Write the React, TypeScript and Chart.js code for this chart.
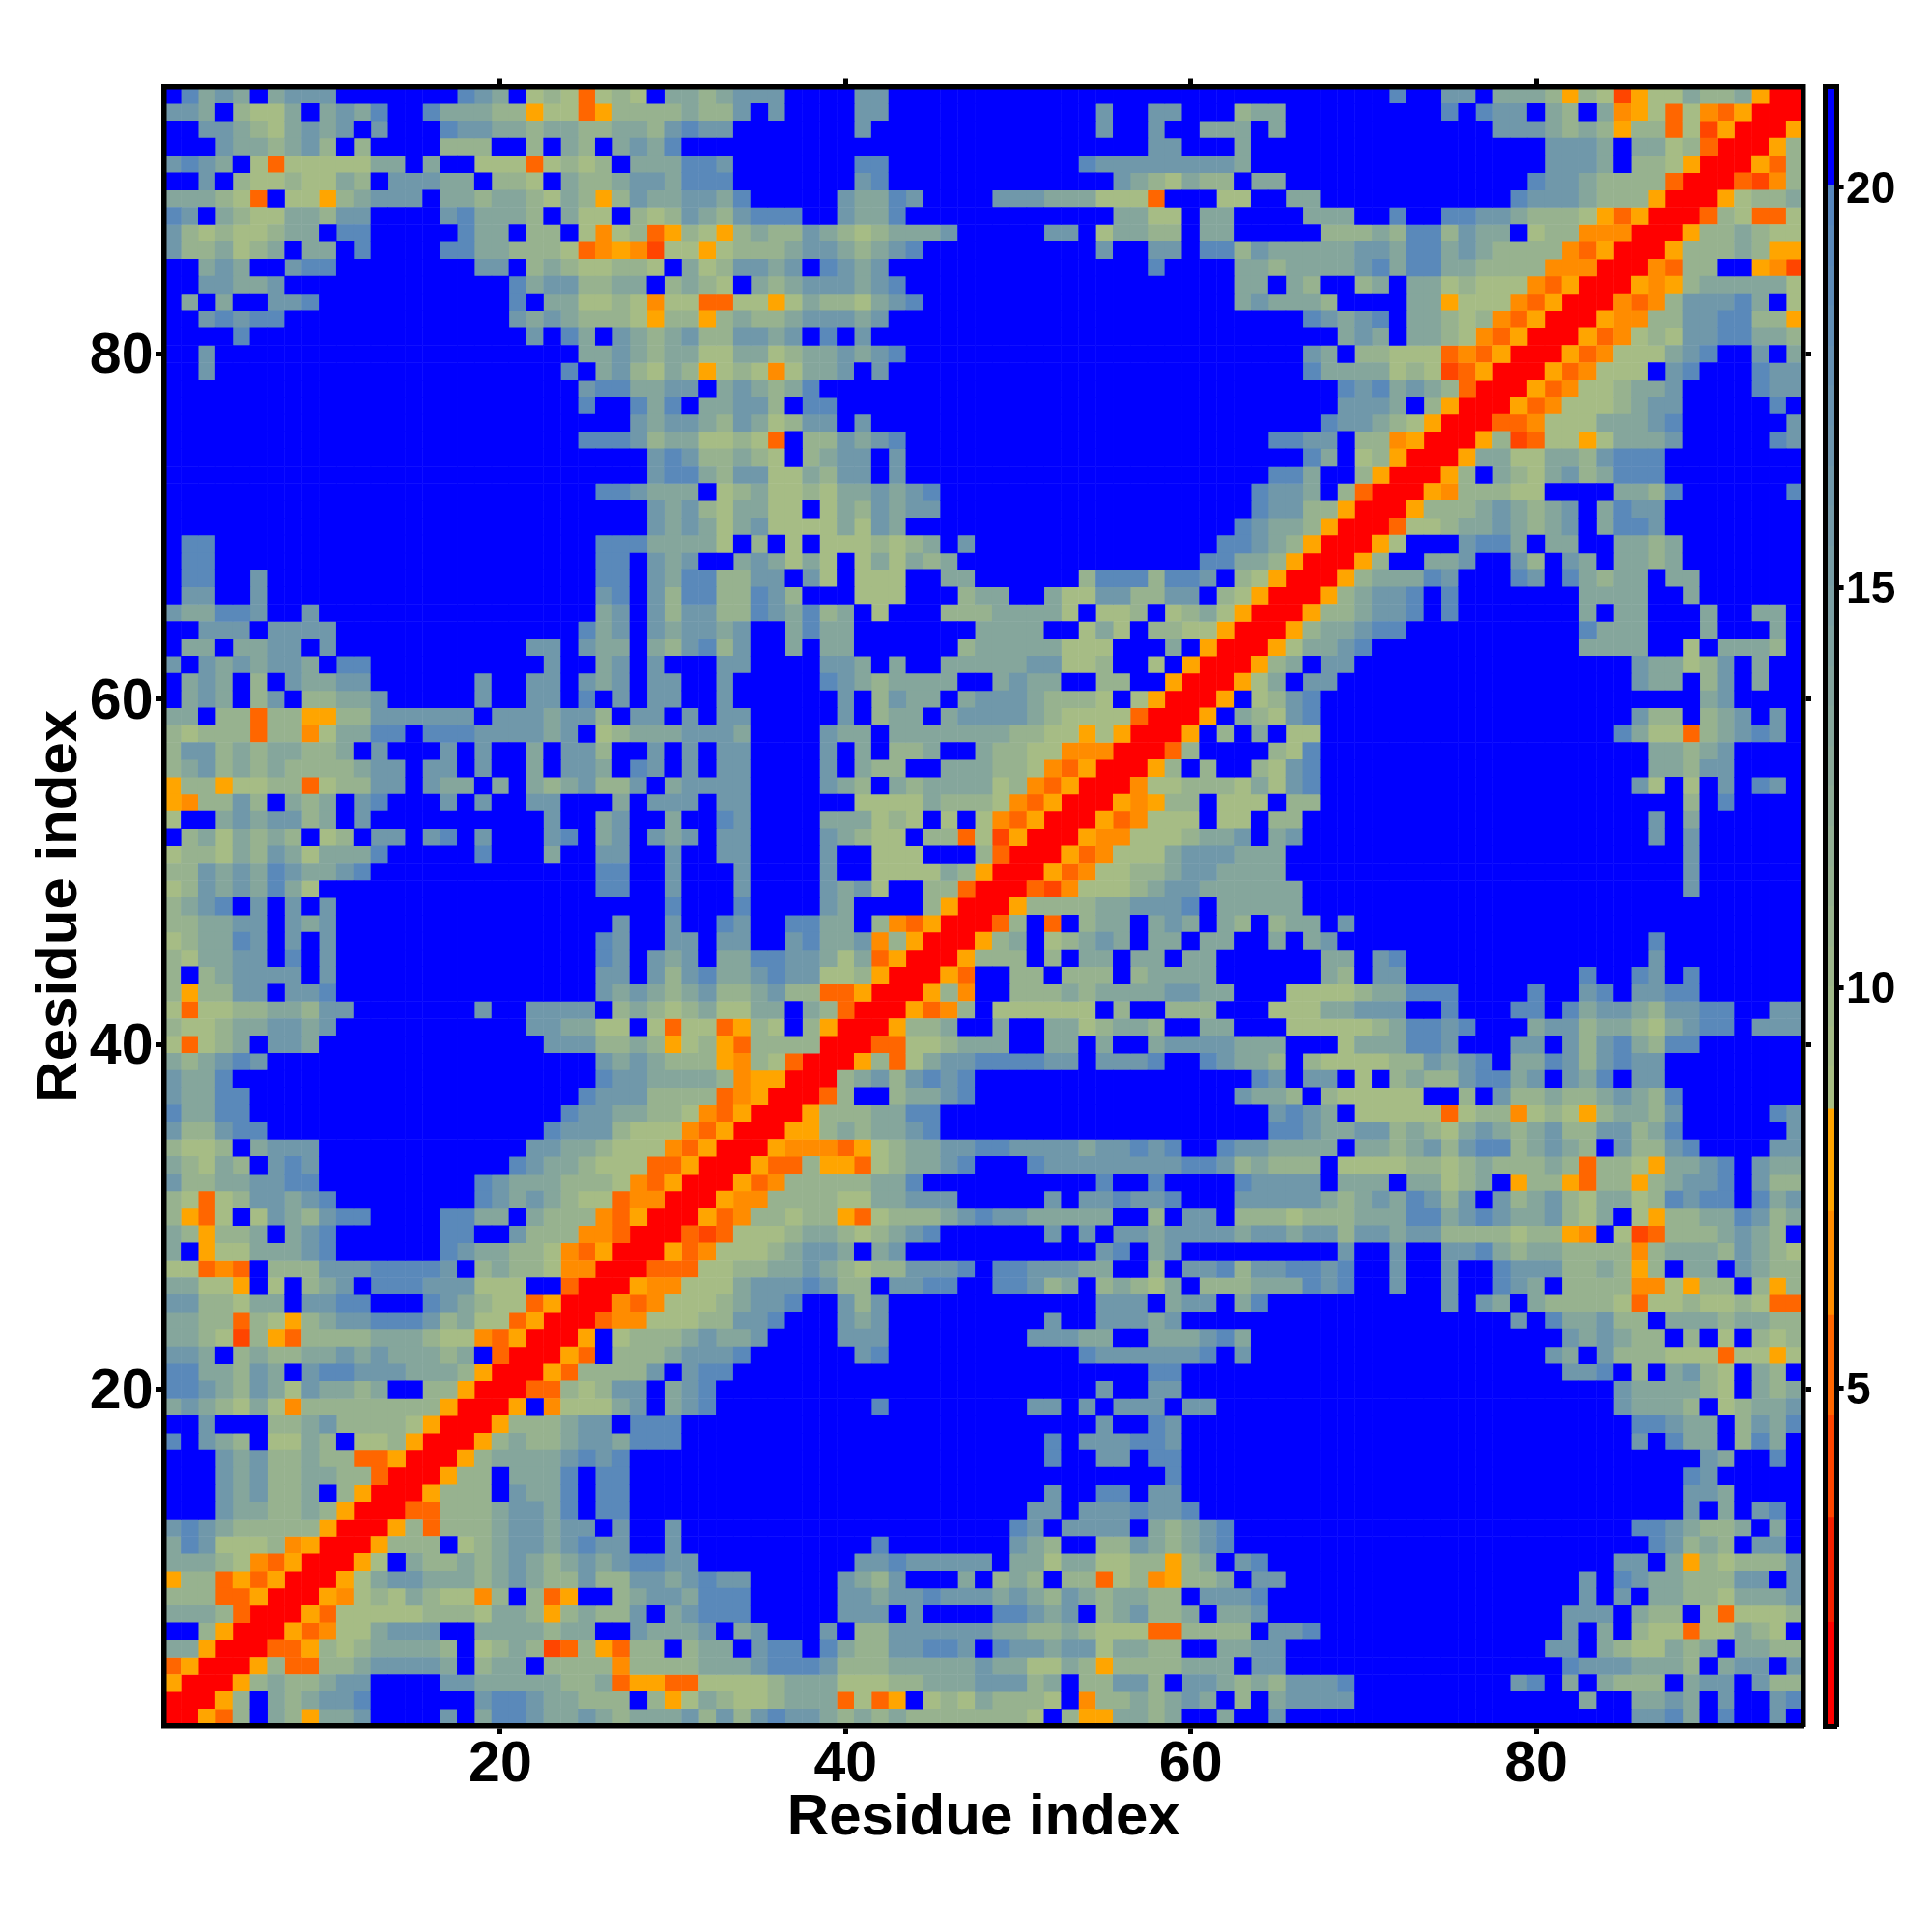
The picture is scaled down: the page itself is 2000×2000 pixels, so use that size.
import React, { useEffect, useRef } from "react";
import { Chart, registerables } from "chart.js";

Chart.register(...registerables);

// Distance classes per cell, rows from residue 95 (top) down to residue 1.
// Legend: B out of range, 4..0 steel to sage, o n m l oranges, r red.
const leftColumns: string[] = [
"B4232B2333 BBBBBBB432 B010m010B2 21",
"332B1002B2 324BB42221 1o00mo1111 21",
"BB33210232 3B3BBB4332 2122112213 43",
"BBB3221231 B1BBBB111B B1B21B2324 BB",
"3432B0m000 0022B2BB00 0m0101B222 44",
"BB3B100100 21B33322B1 10B2112332 44",
"22210mB00o 12333B2212 21021o1322 33",
"43B2100221 33BBBB3422 21B200B101 32",
"310100122B 44BBBBB422 B11B0n01mo 10",
"3112012B22 B4BBBB4422 1110mnonl0 0o",
"BB232BB344 BBBBBBBB33 B12100110B 20",
"BB33223BBB BBBBBBBBBB 42331122B1 21",
"B2B2BB334B BBBBBBBBBB 4B220010n0 0m",
"BB34344BBB BBBBBBBBBB 32321110o1 1o",
"BBBB4BBBBB BBBBBBBBBB B3B42B3212 31",
"BB3BBBBBBB BBBBBBBBBB BBBB223212 20",
"BB3BBBBBBB BBBBBBBBBB BBB4B23102 1o",
"BBBBBBBBBB BBBBBBBBBB BBBB344223 3B",
"BBBBBBBBBB BBBBBBBBBB BBBB4BB424 B2",
"BBBBBBBBBB BBBBBBBBBB BBBBBBB323 32",
"BBBBBBBBBB BBBBBBBBBB BBBB444312 20",
"BBBBBBBBBB BBBBBBBBBB BBBBBBBB34 31",
"BBBBBBBBBB BBBBBBBBBB BBBBBBBB34 42",
"BBBBBBBBBB BBBBBBBBBB BBBBB44322 2B",
"BBBBBBBBBB BBBBBBBBBB BBBBBBBB32 31",
"BBBBBBBBBB BBBBBBBBBB BBBBBBBB32 32",
"B44BBBBBBB BBBBBBBBBB BBBBB44422 22",
"B44BBBBBBB BBBBBBBBBB BBBBB44B32 3B",
"B44BB3BBBB BBBBBBBBBB BBBBB44B32 44",
"B33BB3BBBB BBBBBBBBBB BBBBB34B31 44",
"322443BB3B BBBBBBBBBB BBBBB23B31 33",
"BB333B3333 BBBBBBBBBB BBBB423B32 33",
"B22B2233B3 BBBBBBBBBB B33B322B21 34",
"3B3232332B 44BBBBBBBB BB3BB23B3B BB",
"B232B1B322 33BBBBBB3B B33B323B33 BB",
"B232B13B11 223BBBBB3B B33B4B3B33 BB",
"22B11m11oo 11333333B3 332331B33B 3B",
"10111m11n0 2244B44433 3323B01222 33",
"1331212211 2B3BBB3B3B B2B331BB3B 3B",
"1231212111 1233B33B3B B2B332B43B 3B",
"o11o0011m0 1133B322B2 B2123113B2 33",
"on1131B212 B34BBB3B3B B33BBB2B33 3B",
"0BB2323312 B3BBBBBBBB BB3BB23BB2 BB",
"B1202121B0 1B33B34B3B BB34B23B32 3B",
"0110213202 224BBBBB4B BB2BB33BB3 BB",
"1132324322 34BBBBBBBB BBBBB44BB3 BB",
"013232420B BBBBBBBBBB BBBBB44BB3 BB",
"1234B3B3B3 BBBBBBBBBB BBBBBBBBB4 BB",
"112233B323 BBBBBBBBBB BBBBBB3BB3 BB",
"012243B3B3 BBBBBBBBBB BBBBB43BB3 3B",
"102233B4B3 BBBBBBBBBB BBBBB43B32 3B",
"1B123333B3 BBBBBBBBBB BBBBB33B31 34",
"1o1133B334 BBBBBBBBBB BBBBB32321 23",
"0m00112213 3BBBBBBB3B B3333B1210 12",
"1001223323 BBBBBBBBBB B332200B0m 00",
"0m012B332B BBBBBBBBBB BB3331121o 01",
"212343BBBB BBBBBBBBBB BBBBB32321 11",
"3224BBBBBB BBBBBBBBBB BBBBB43322 22",
"32244BBBBB BBBBBBBBBB BBBB433311 11",
"42244BBBBB BBBBBBBBBB BBB4332211 0n",
"311344BBBB BBBBBBBBBB BB43331000 nm",
"1001B2333B BBBBBBBBBB B33221000n mo",
"21021B343B BBBBBBBBBB 43221000mm or",
"311223344B BBBBBBBB43 2221110nmo rr",
"10m0133234 BBBBBBBB43 232100mnnr rr",
"1om0B03213 44BBBB4422 B2111nmorr ro",
"21o112B234 BBBBBB44BB 3111nnmrrr ml",
"2Bo0022234 BBBBBB4322 110nmorrro mn",
"00mnmB1113 3344443B12 110nnrrrmm m0",
"2200oB0B12 3B44433300 0BBmrrronn 00",
"3311022B33 44BBB43210 0morrrnmn0 00",
"2211m10o12 3344431200 morrrmnn00 01",
"2210l1om11 11222100nm orrroB0111 23",
"332B121122 32322212Bm rrromB1112 33",
"4422132B34 43332221or rrom11113B 34",
"4432132032 212BB11orr rmm10133B2 34",
"2321020n11 111111orrr oBn00023B2 34",
"BB3BBB1123 11110orrro 111233B444 BB",
"4B321B0021 B001orrro1 2112332444 BB",
"BBB3231121 1mmorrro12 2223434BBB BB",
"BBB3231122 11mrrro11B 2224B44BBB BB",
"BBB323112B 1orrro111B 3224B44BBB BB",
"BBB3221121 orrrmm1112 3324B44BBB BB",
"343211111o rrro1m1112 33233B3BB3 BB",
"2430001nor rro111B012 3323433BB3 BB",
"22210nmorr ro0B211212 3212323443 3B",
"o11momorrr o023322212 3211311332 34",
"111mmorrro n0102100n1 B1moBB1233 24",
"2221mrrrom 0000011102 21o12113B2 34",
"BB1orrromn 002333BB22 22122BB322 23",
"22orrrmmo1 0122221B01 21lm1om11B 12",
"morrro1mm1 1233332B12 2B1111n111 12",
"orrro12112 33BBBB3322 222112moom m0",
"rrro1B2123 34BBBBBB34 4322111B1o 02",
"rrom1B21o2 23BBBB3B24 4322321222 31",
];

const middleColumns: string[] = [
"2333BBBB33 BBBBBBBBBB BBBBBBBBBB BB",
"13B3BBBB33 BBBBBBBBBB BB3BB33BBB 12",
"3BBBBBBB3B BBBBBBBBBB BB3BB3BB22 2B",
"BBBBBBBBBB BBBBBBBBBB BBBBB33BBB 2B",
"3BBBBBBB44 BBBBBBBBBB B433333333 2B",
"4BBBBBBB34 BBBBBBBBBB BBB3210211 B2",
"24BBBBB322 43BBBB3332 22000mBBB0 0B",
"13444BB322 4BBBBBBBBB BBB2200B22 BB",
"o121132101 2223BBBBB3 3B02211B22 BB",
"0111233212 34BBBBBBBB BB3BB33B44 13",
"13323B4323 BBBBBBBBBB BBBBB4BBBB 22",
"0B21233323 4BBBBBBBBB BBBBBBBBBB 22",
"m00o021102 34BBBBBBBB BBBBBBBBBB 23",
"1211233323 BBBBBBBBBB BBBBBBBBBB BB",
"13323B4B3B BBBBBBBBBB BBBBBBBBBB BB",
"0220122323 4BBBBBBBBB BBBBBBBBBB BB",
"010n0223B3 BBBBBBBBBB BBBBBBBBBB BB",
"232124BBBB BBBBBBBBBB BBBBBBBBBB BB",
"2331B44BBB BBBBBBBBBB BBBBBBBBBB BB",
"1320133B3B BBBBBBBBBB BBBBBBBBBB BB",
"010mB11323 4BBBBBBBBB BBBBBBBBBB BB",
"1210B1233B 3BBBBBBBBB BBBBBBBBBB BB",
"133002133B 3BBBBBBBBB BBBBBBBBBB BB",
"0120010223 234BBBBBBB BBBBBBBBBB B4",
"02200B0213 233BBBBBBB BBBBBBBBBB B4",
"0230000203 2BBBBBBBBB BBBBBBBBBB 43",
"0B1B0B0001 012B3BBBBB BBBBBBBBB4 43",
"B232020B02 0212BBBBBB BBBBBBBB44 22",
"1133B30B00 0BB22BBBBB B14441443B 10",
"11431BBB00 0BBB122BB2 00331133B1 0o",
"11432412B0 BBB1112222 0B001B0120 or",
"23BB2422BB BBBBB2222B B020B1100o rr",
"13BB2B22BB BBBB122222 000BBB2Bor rr",
"33BBBB332B 2BB2222233 001BB0Borr ro",
"3BBBBB4321 2222BB2322 BB11BBorrr o0",
"3BBBBBB3B1 322B233321 110B0orrro B0",
"33BBBBB3B1 22B2333321 0000mrrroB 21",
"32BBBB322B 2222222110 0o0orrroB1 B2",
"33BBBB3B2B 112BB21100 nnnrrrm1BB BB",
"33BBBB3B21 1BB222110n morrro1B1B B1",
"33BBBB321B 21222201nm orrrn00111 02",
"33BBBBBB00 0021110nmo rrrono11B0 00",
"43BBBB2220 10B0B0nmor rromn000B0 0B",
"33BBBB3210 0B11m0lorr ronn000122 3B",
"33BBBB3BB0 00BBB1mrrr omn0002333 22",
"B3BBBB3BB0 00021orrro mn00112332 22",
"B3BBBB3230 BB11mrrrml n000123322 22",
"B4BBBB32BB BB1orrro11 11223334B2 22",
"43BB4422B1 nmorrrm1Bm B122B232B2 1B",
"33BB34223n 1orrro12B0 1232B22B22 BB",
"224433202m orrro111B1 B22B22B22B BB",
"223433001o rrromBB11B 111B12222B BB",
"112311mmor rro1nBB111 2122223322 BB",
"0022B21mrr romn1B0000 00B1BB111B BB",
"mo10B1orrr o112BB2BB2 201221BB22 BB",
"om1111rrrm m001222BB2 2B2BB23333 22",
"on10mrrro1 m023344443 3B3334BB43 22",
"1noorrr123 13434BBBBB BBBBBBBBBB B4",
"mnorrrm1BB 12234BBBBB BBBBBBBBBB 32",
"morrro1112 244BBBBBBB BBBBBBBBBB BB",
"orrroo1212 234BBBBBBB BBBBBBBBBB BB",
"rrronnnmo0 1223344333 3233434BB4 33",
"rromm1oom0 12234BBB43 3333333443 12",
"romn111112 24BBBBBBBB BB4BB4BBBB 43",
"onn1111002 2333BBBBB3 B334334BBB 33",
"mn11011om0 1112343322 222BB1B33B 11",
"m000122101 234BBBBBB3 B3B3323333 23",
"00012332B2 3BBBBBBBBB BB34B23BBB BB",
"0112232101 13334B4433 322BB1B334 13",
"023334311B 3344BB4431 2B12102B11 12",
"12334BB313 BBBBBBBBBB BB333B233B 24",
"1334BBB323 BBBBBBBBB3 BB33323BBB BB",
"223BBBB333 BBBBBBBB33 322BB22234 2B",
"34BBBBBB34 BBBBBBBBBB B43333334B 3B",
"4BBBBBBBBB BBBBBBBBBB BBBBB44BBB BB",
"BBBBBBBBBB BBBBBBBBBB BB3BB33BBB BB",
"BBBBBBBBB4 BBBBBBBB33 B3B333B33B BB",
"BBBBBBBBBB BBBBBBBBBB BB3BB43BBB BB",
"BBBBBBBBBB BBBBBBBBB4 B333443BBB BB",
"BBBBBBBBBB BBBBBBBBB4 BB33B44BBB BB",
"BBBBBBBBBB BBBBBBBBBB BBBBBB4BBB BB",
"BBBBBBBBBB BBBBBBBBB3 BB44B33BBB BB",
"BBBBBBBBBB BBBBBBBB33 B3334334BB BB",
"BBBBBBBBBB BBBBBBB43B 3333B21234 BB",
"BBBBBBBBB4 BBBBBBB321 BB11321234 BB",
"BBBBBBBB33 433333B220 220011o12B 34",
"33BBBBB321 3BBB2B121B 11m01no112 B3",
"44BBBBB332 3343332321 3212211B33 34",
"44BBBBB333 B3BBBB4432 3B123112B2 23",
"B23BBB3B11 3333332211 21000mm111 1B",
"2B344B4211 33443B4332 3302211BB2 23",
"2234443111 2222232200 21o1111222 B3",
"0001222000 1122233312 B11331B332 12",
"1001222m0m oB01021110 Bn1121232B 1B",
"3134332121 211111110B 1oo2212BB2 BB",
];

const rightColumns: string[] = [
"BBBBBBB4BB 33B2221o10 lo002112or r",
"2BBBBBBBBB 4B433B21B2 no0m0nmorr r",
"2BBBBBBBBB BBB3332121 o11m0lorrr o",
"BBBBBBBBBB BBBBBB3332 B2201mrrro 1",
"BBBBBBBBBB BBBBBB3332 B110orrrom 1",
"2BBBBBBBBB BBBBB43321 111mrrrmln 1",
"B22BBBBBBB BBBB433321 11orrro011 2",
"BB222BB4BB 443321110o morrrm10mm 0",
"BBB1112144 1322B011nn nrrro11210 0",
"2222233244 2321111nmo rrro11121o o",
"1222234244 221111nnnr rrnm11BBon l",
"B21BB12B22 01000nmorr rono122222 0",
"2221BBBB22 o000nmorrr nmn133342B 0",
"BB43234B22 101nmorrro nn11334411 o",
"BBBB232B22 10nmorrrom n010334422 1",
"BB32B11000 mnmorrromn 000234BB3B 2",
"BB42222010 lmorrromn0 00B34BBB43 3",
"BBBB434232 1mrrromn00 1223BBBB43 3",
"BBBB3332B1 orrromn000 1233BBBBB4 B",
"BBB433210o rrrmmn0002 2234BBBBBB 3",
"4433B11nor rro1lm00o0 2223BBBBB4 3",
"BB42B01orr ro22002213 444BBBBBBB B",
"442BB1orrr o1B2102312 444BBBBBBB B",
"332B1mrrro n11100BBBB 2214BBBBBB 4",
"3311orrro1 11232123B2 433BBBBBBB B",
"221orrrm00 12232123B2 443BBBBBBB B",
"21orrro0BB B3442B22BB 2212BBBBBB B",
"1orrro1BB2 23BB31B32B 2212BBBBBB B",
"orrro12224 3BBB43B421 22B22BBBBB B",
"rrro12334B 4BBBBBBB22 22BB2BBBBB B",
"rro112334B 4BBBBBBB2B 22BBB2BB22 B",
"ro122344BB BBBBBBBB42 22BBB2BBB2 B",
"o02234BBBB BBBBBBBB22 22BB0B2221 B",
"12B33BBBBB BBBBBBBBBB B322013B2B B",
"2B33BBBBBB BBBBBBBBBB B322B13B2B B",
"134BBBBBBB BBBBBBBBBB BBBBB23BBB B",
"034BBBBBBB BBBBBBBBBB B311B123B3 B",
"B00BBBBBBB BBBBBBBBBB 4200m12343 B",
"104BBBBBBB BBBBBBBBBB BB22123BBB B",
"034BBBBBBB BBBBBBBBBB BB22133BBB B",
"034BBBBBBB BBBBBBBBBB B30B0B3B43 B",
"B11BBBBBBB BBBBBBBBBB BBBB1B4BBB B",
"11BBBBBBBB BBBBBBBBBB BB3B2BBBBB B",
"23BBBBBBBB BBBBBBBBBB BB3B3BBBBB B",
"2BBBBBBBBB BBBBBBBBBB BBBB3BBBBB B",
"2BBBBBBBBB BBBBBBBBBB BBBB3BBBBB B",
"22BBBBBBBB BBBBBBBBBB BBBB3BBBBB B",
"22BBBBBBBB BBBBBBBBBB BBBBBBBBBB B",
"122B3BBBBB BBBBBBBBBB BBBBBBBBBB B",
"2B23BBBBBB BBBBBBBBBB BB4BBBBBBB B",
"BBB22B34BB BBBBBBBBBB BB3BBBBBBB B",
"BBB21B33BB BBBBBBBB4B B43B4BBBBB B",
"B000012244 4BBBB4BB34 B3344BBBBB B",
"00022333BB 4BBB44B423 3213344BB3 3",
"B000001244 34BBB23312 2102344B33 3",
"2BBB022244 3BBB33B313 42144BBBBB B",
"1B10000113 234B224313 433BBBBBBB B",
"3B33B0B121 134423B324 B33BBBBBBB B",
"21B100000B B1B3112112 3214BBBBBB B",
"3432B00000 m011n010o1 2213BBBBB4 3",
"4432233121 0232123113 3124BBBBBB 3",
"2222B22123 134412321B 31134BBBB3 3",
"111B000011 01211121m1 10o2234B32 2",
"333B222B22 012Bo11om1 1o12334B31 1",
"3332123243 13B3123102 2014344B42 3",
"1011122244 2343223102 B0o1122431 2",
"3233133233 1111011onB 0lm1112321 B",
"BBBB3BB3BB 3342122111 1n12221321 0",
"34434BB3BB 3BB4333112 1o1B22B321 1",
"22434BB3BB 3BB432B111 1nn0o11B1o 1",
"BBBBBBBBBB 3B32B21111 0m0010010m m",
"BBBBBBBBBB BBBB3B4223 11B2221221 1",
"BBBBBBBBBB BBBBBBB323 211B1B0B10 1",
"BBBBBBBBBB BBBBBB32B3 111000m00o 0",
"BBBBBBBBBB BBBBBBB334 B1B2310B21 B",
"BBBBBBBBBB BBBBBBBBBB 3222210B21 2",
"BBBBBBBBBB BBBBBBBBBB 32221B0122 3",
"BBBBBBBBBB BBBBBBBBBB B44322B132 4",
"BBBBBBBBBB BBBBBBBBBB B3B422B142 B",
"BBBBBBBBBB BBBBBBBBBB BBBBB32BB4 B",
"BBBBBBBBBB BBBBBBBBBB BBBB43BBBB B",
"BBBBBBBBBB BBBBBBBBBB BBBB332BBB B",
"BBBBBBBBBB BBBBBBBBBB BBBB3B2B34 B",
"BBBBBBBBBB BBBBBBBBBB B4432112B2 B",
"BBBBBBBBBB BBBBBBBBBB BB43121B33 B",
"BBBBBBBBBB BBBBBBBBBB 33B2o10111 3",
"3BBBBBBBBB BBBBBBBB3B 432211133B 3",
"BBBBBBBBBB BBBBBBBB3B 3B22110222 3",
"BBBBBBBBBB BBBBBBB333 B211B0m000 1",
"334BBBBBBB BBBBBBB3B2 B100m00210 B",
"3BBBBBBBBB BBBBBB33B2 100212B221 1",
"3BBBBBBBBB BBBBBBB433 32221B233B 3",
"13334BBBBB BBBB34B2B2 111B233B31 1",
"23333BBBBB BBBBBBBB2B B2232B3BB3 4",
"3BBBBBBBBB BBBBBBBBBB B3342B4BB3 B",
];

// Representative distance for every class in the cell strings.
const classSymbols = ["B", "4", "3", "2", "1", "0", "o", "n", "m", "l", "r"];
const classValues = [21, 19.2, 16.2, 13.4, 11, 9, 7.8, 6.6, 5.3, 4, 1.5];

const axisTicks = [20, 40, 60, 80];
const axisTitle = "Residue index";
const colorbarTicks = [5, 10, 15, 20];

const warmEdges = [0.78, 2.06, 3.37, 4.64, 5.9, 7.19, 8.47];
const warmColors = ["#ff0000", "#f52000", "#ff4500", "#ff6600", "#ff8c00", "#ffa500"];
const coolEdges = [8.47, 9, 9.5, 10, 10.5, 11, 11.5, 12, 12.5, 13, 13.5, 14, 14.5, 15, 15.5, 16, 16.5, 17, 17.5, 18, 18.5, 19, 19.5, 20];
const outOfRangeEdges = [20, 21.26];
const sageRgb = [170, 191, 130];
const steelRgb = [84, 133, 190];
const outOfRangeColor = "#0000ff";

const plotLeft = 169.5;
const plotRight = 1867;
const plotTop = 89.5;
const plotBottom = 1787;
const FONT = "'Liberation Sans', Arial, sans-serif";

function rampColor(v: number): string {
  const t = Math.min(1, Math.max(0, (v - 8.47) / (20 - 8.47)));
  const c = sageRgb.map((s, i) => Math.round(s + (steelRgb[i] - s) * t));
  return `rgb(${c[0]},${c[1]},${c[2]})`;
}

function colorFor(v: number): string {
  if (v >= 20) return outOfRangeColor;
  for (let i = 0; i < warmColors.length; i++) {
    if (v < warmEdges[i + 1]) return warmColors[i];
  }
  return rampColor(v);
}

function buildCells() {
  const groups = classSymbols.map(() => [] as { x: number; y: number }[]);
  for (let r = 0; r < 95; r++) {
    const row = (leftColumns[r] + middleColumns[r] + rightColumns[r]).replace(/ /g, "");
    for (let k = 0; k < 95; k++) {
      groups[classSymbols.indexOf(row[k])].push({ x: k + 1, y: 95 - r });
    }
  }
  return groups;
}

function fixedTicks(values: number[]) {
  return (scale: any) => {
    scale.ticks = values.map((value) => ({ value }));
  };
}

export default function App() {
  const mainRef = useRef<HTMLCanvasElement>(null);
  const barRef = useRef<HTMLCanvasElement>(null);

  useEffect(() => {
    const cellSide = (plotRight - plotLeft) / 95;
    const groups = buildCells();
    const datasets = groups.map((data, i) => ({
      data,
      showLine: false,
      pointStyle: "rect" as const,
      pointRadius: (cellSide + 0.5) * Math.SQRT1_2,
      pointBorderWidth: 0,
      pointBackgroundColor: colorFor(classValues[i]),
    }));

    const frame = { display: true, color: "#000", width: 5.5, z: 2 };
    const marks = { display: true, drawOnChartArea: false, drawTicks: true, tickLength: 8, tickWidth: 5, tickColor: "#000", z: 1 };
    const tickFont = { family: FONT, size: 59, weight: "bold" as const, lineHeight: 1 };
    const titleFont = { family: FONT, size: 60, weight: "bold" as const, lineHeight: 1 };

    const xBase = { type: "linear" as const, min: 0.5, max: 95.5, afterBuildTicks: fixedTicks(axisTicks), border: frame, grid: marks };
    const main = new Chart(mainRef.current!, {
      type: "scatter",
      data: { datasets },
      options: {
        animation: false,
        responsive: false,
        devicePixelRatio: 1,
        events: [],
        layout: { padding: 0 },
        plugins: { legend: { display: false }, tooltip: { enabled: false } },
        scales: {
          x: {
            ...xBase,
            position: "bottom",
            afterFit: (s: any) => { s.height = 2000 - plotBottom; },
            ticks: { autoSkip: false, maxRotation: 0, color: "#000", font: tickFont, padding: 3 },
            title: { display: true, text: axisTitle, color: "#000", font: titleFont, padding: { top: 0, bottom: 88 } },
          },
          x2: {
            ...xBase,
            position: "top",
            afterFit: (s: any) => { s.height = plotTop; },
            ticks: { autoSkip: false, maxRotation: 0, callback: () => "" },
          },
          y: {
            ...xBase,
            position: "left",
            afterFit: (s: any) => { s.width = plotLeft; },
            ticks: { autoSkip: false, maxRotation: 0, color: "#000", font: tickFont, padding: 3, labelOffset: 3.5 },
            title: { display: true, text: axisTitle, color: "#000", font: titleFont, padding: { top: 32, bottom: 0 } },
          },
          y2: {
            ...xBase,
            position: "right",
            afterFit: (s: any) => { s.width = 2000 - plotRight; },
            ticks: { autoSkip: false, maxRotation: 0, callback: () => "" },
          },
        },
      } as any,
    });

    // Colour bar
    const barOrigin = 1880;
    const barLeft = 1889.2 - barOrigin;
    const barRight = 1901.6 - barOrigin;
    const bands: { lo: number; hi: number; color: string }[] = [];
    warmColors.forEach((color, i) => bands.push({ lo: warmEdges[i], hi: warmEdges[i + 1], color }));
    for (let i = 0; i + 1 < coolEdges.length; i++) {
      bands.push({ lo: coolEdges[i], hi: coolEdges[i + 1], color: rampColor((coolEdges[i] + coolEdges[i + 1]) / 2) });
    }
    bands.push({ lo: outOfRangeEdges[0], hi: outOfRangeEdges[1], color: outOfRangeColor });

    const barFrame = { display: true, color: "#000", width: 5, z: 2 };
    const barY = { type: "linear" as const, min: warmEdges[0], max: outOfRangeEdges[1], stacked: false, border: barFrame };
    const bar = new Chart(barRef.current!, {
      type: "bar",
      data: {
        labels: ["scale"],
        datasets: bands.map((b) => ({
          data: [[b.lo, b.hi + 0.02]],
          backgroundColor: b.color,
          borderWidth: 0,
          barPercentage: 1,
          categoryPercentage: 1,
          yAxisID: "y",
        })),
      },
      options: {
        animation: false,
        responsive: false,
        devicePixelRatio: 1,
        events: [],
        layout: { padding: { left: barLeft } },
        plugins: { legend: { display: false }, tooltip: { enabled: false } },
        scales: {
          x: {
            stacked: true,
            position: "bottom",
            border: barFrame,
            grid: { display: false },
            ticks: { display: false },
            afterFit: (s: any) => { s.height = 2000 - plotBottom; },
          },
          xTop: {
            type: "category",
            position: "top",
            labels: ["scale"],
            border: barFrame,
            grid: { display: false },
            ticks: { display: false },
            afterFit: (s: any) => { s.height = plotTop; },
          },
          y: {
            ...barY,
            position: "right",
            afterFit: (s: any) => { s.width = 120 - barRight; },
            afterBuildTicks: fixedTicks(colorbarTicks),
            grid: { display: true, drawOnChartArea: false, drawTicks: true, tickLength: 7, tickWidth: 5, tickColor: "#000", z: 1 },
            ticks: { autoSkip: false, maxRotation: 0, color: "#000", font: { family: FONT, size: 46, weight: "bold", lineHeight: 1 }, padding: 2.5, labelOffset: 3 },
          },
          yLeft: {
            ...barY,
            position: "left",
            afterFit: (s: any) => { s.width = 0; },
            grid: { display: false },
            ticks: { display: false },
          },
        },
      } as any,
    });

    return () => {
      main.destroy();
      bar.destroy();
    };
  }, []);

  return (
    <div style={{ position: "absolute", left: 0, top: 0, width: 2000, height: 2000, background: "#fff" }}>
      <canvas ref={mainRef} width={2000} height={2000} style={{ position: "absolute", left: 0, top: 0, display: "block" }} />
      <canvas ref={barRef} width={120} height={2000} style={{ position: "absolute", left: 1880, top: 0, display: "block" }} />
    </div>
  );
}
